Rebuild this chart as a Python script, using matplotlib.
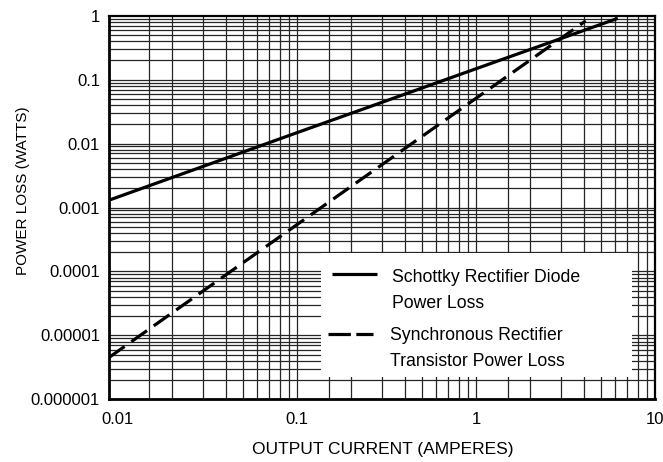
import matplotlib
matplotlib.use("Agg")
import matplotlib.pyplot as plt
from matplotlib.patches import Rectangle
from matplotlib.lines import Line2D

# ---- data ----
schottky_current = [0.0089, 0.1, 1.0, 6.2]
schottky_loss = [0.0013, 0.0148, 0.148, 0.91]
sync_current = [0.0089, 0.1, 1.0, 4.1]
sync_loss = [4.5e-6, 0.00054, 0.051, 0.83]

x_ticks = [0.01, 0.1, 1, 10]
x_tick_labels = ["0.01", "0.1", "1", "10"]
y_ticks = [1e-6, 1e-5, 1e-4, 1e-3, 1e-2, 1e-1, 1]
y_tick_labels = ["0.000001", "0.00001", "0.0001", "0.001", "0.01", "0.1", "1"]

legend_labels = ["Schottky Rectifier Diode\nPower Loss",
                 "Synchronous Rectifier\nTransistor Power Loss"]
x_label = "OUTPUT CURRENT (AMPERES)"
y_label = "POWER LOSS (WATTS)"

FONT = ["Liberation Sans", "DejaVu Sans"]

W, H = 663, 462
fig = plt.figure(figsize=(W / 100, H / 100), dpi=100)
L, R, T, B = 109, 655, 15.7, 399.3
ax = fig.add_axes([L / W, 1 - B / H, (R - L) / W, (B - T) / H])
ax.set_xscale("log")
ax.set_yscale("log")
ax.set_xlim(0.00891, 10)
ax.set_ylim(1e-6, 1)

# grid (graph paper)
gcol = "#262626"
x_mults = [1, 1.5, 2, 3, 4, 5, 6, 7, 8, 9]
for dec in [0.01, 0.1, 1]:
    for m in x_mults:
        v = dec * m
        if v > 0.0101:
            ax.axvline(v, color=gcol, lw=0.9, zorder=1)
y_mults = [1, 2, 3, 4, 5, 6, 7, 8, 9]
for e in range(-6, 0):
    for m in y_mults:
        ax.axhline(10.0 ** e * m, color=gcol, lw=0.9, zorder=1)

ax.plot(schottky_current, schottky_loss, color="black", lw=2.3,
        solid_capstyle="butt", zorder=3)
ax.plot(sync_current, sync_loss, color="black", lw=2.3,
        linestyle=(0, (6, 2.6)), dash_capstyle="butt", zorder=3)

ax.set_xticks(x_ticks)
ax.set_xticklabels(x_tick_labels)
ax.set_yticks(y_ticks)
ax.set_yticklabels(y_tick_labels)
ax.minorticks_off()
ax.tick_params(axis="both", length=0, labelsize=12)
ax.tick_params(axis="x", pad=9)
ax.tick_params(axis="y", pad=6.5)
for lab in ax.get_xticklabels() + ax.get_yticklabels():
    lab.set_family(FONT)

for side, lw in [("left", 2.0), ("bottom", 2.0), ("top", 1.6), ("right", 1.6)]:
    ax.spines[side].set_linewidth(lw)
    ax.spines[side].set_zorder(4)

# legend box drawn by hand (handles aligned with first text line)
def fx(px):
    return (px - L) / (R - L)

def fy(py):
    return 1 - (py - T) / (B - T)

ax.add_patch(Rectangle((fx(320.7), fy(376.7)), fx(632.3) - fx(320.7),
                       fy(253.3) - fy(376.7), transform=ax.transAxes,
                       facecolor="white", edgecolor="none", zorder=2))
ax.add_line(Line2D([fx(331.7), fx(377.3)], [fy(274.3), fy(274.3)],
                   transform=ax.transAxes, color="black", lw=2.3,
                   solid_capstyle="butt", zorder=3))
ax.add_line(Line2D([fx(328), fx(373)], [fy(334.3), fy(334.3)],
                   transform=ax.transAxes, color="black", lw=2.3,
                   linestyle=(0, (7, 1.7)), dash_capstyle="butt", zorder=3))

line_baselines = [[281.7, 307.7], [340.0, 365.7]]
line_lefts = [391.7, 390.0]
for lab, bases, x0 in zip(legend_labels, line_baselines, line_lefts):
    for txt, yb in zip(lab.split("\n"), bases):
        ax.text(fx(x0), fy(yb), txt, transform=ax.transAxes, ha="left",
                va="baseline", fontsize=12.7, family=FONT, zorder=5)

fig.text(382.5 / W, 1 - 454 / H, x_label, ha="center", va="baseline",
         fontsize=12.5, family=FONT)
fig.text(26.7 / W, 1 - 190.5 / H, y_label, rotation=90, rotation_mode="anchor",
         ha="center", va="baseline", fontsize=11, family=FONT)

fig.savefig("out.png", dpi=100)
